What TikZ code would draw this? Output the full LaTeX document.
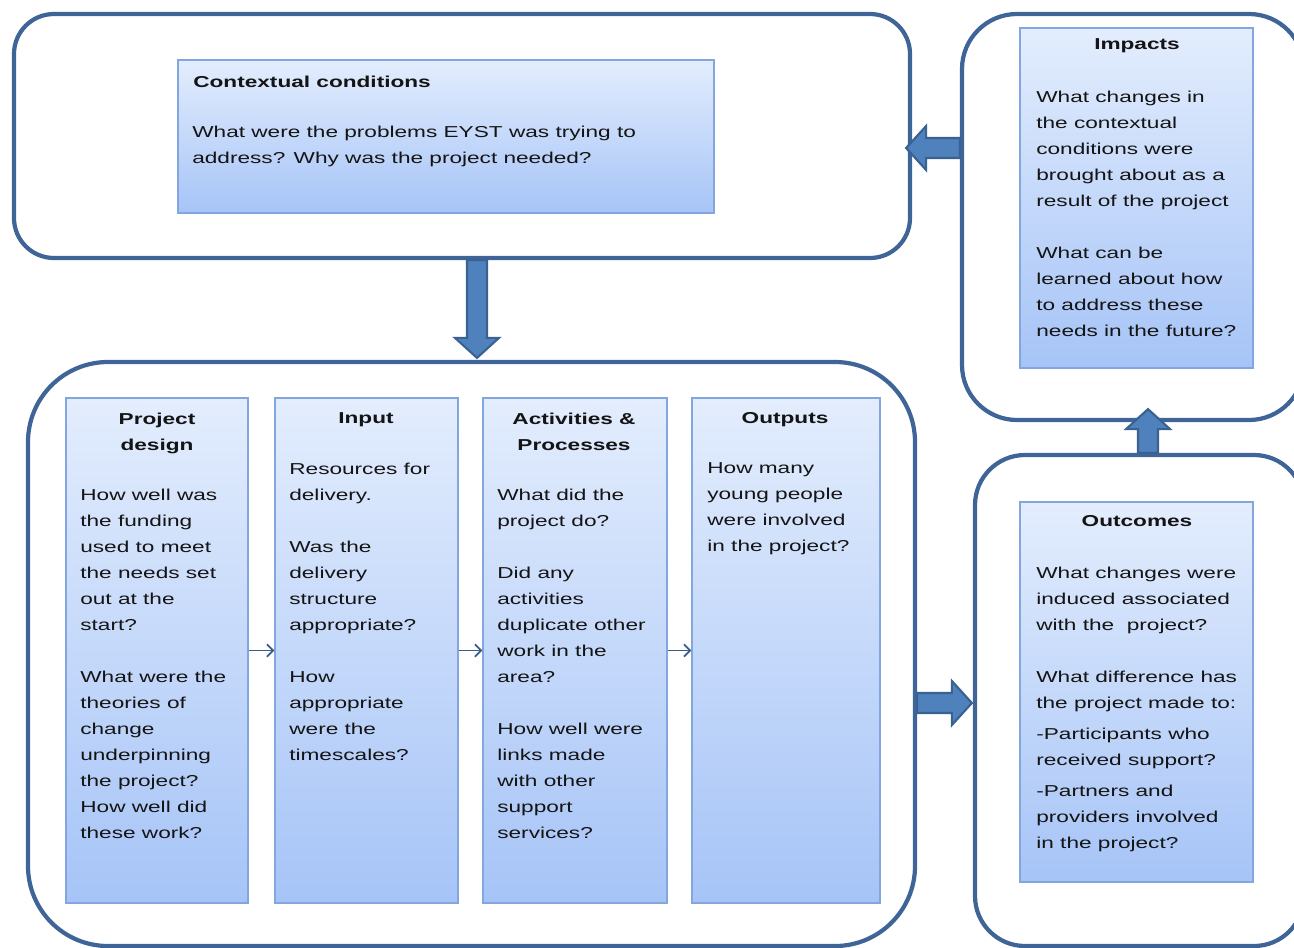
\documentclass[tikz,border=0pt]{standalone}
\usepackage{fontspec}
\setmainfont{Liberation Sans}[FakeStretch=1.43]
\usetikzlibrary{calc,fit,arrows.meta}

\definecolor{frameblue}{HTML}{3F6598}
\definecolor{boxedge}{HTML}{82A6DD}
\definecolor{boxtop}{HTML}{E3EDFD}
\definecolor{boxbot}{HTML}{A6C4F7}
\definecolor{arrowfill}{HTML}{4F81BD}
\definecolor{arrowedge}{HTML}{3A6190}
\definecolor{flowblue}{HTML}{3B5B88}
\definecolor{textgrey}{HTML}{141414}

\begin{document}
\begin{tikzpicture}[x=0.02cm, y=-0.02cm,
    every node/.style={font=\fontsize{9}{14.8}\selectfont, text=textgrey},
    frame/.style={draw=frameblue, line width=2.4pt, inner sep=0pt},
    qbox/.style={draw=boxedge, line width=0.8pt, top color=boxtop, bottom color=boxbot, inner sep=0pt},
    head/.style={font=\fontsize{9}{14.8}\selectfont\bfseries, align=center, anchor=north, inner sep=0pt},
    body/.style={align=left, anchor=north west, inner sep=0pt},
    flow/.style={-{Straight Barb[length=3.5pt,width=7pt]}, draw=flowblue, line width=1pt},
    bigarrow/.style={draw=arrowedge, fill=arrowfill, line width=1.2pt, line join=miter,
      to path={
        -- ($(\tikztostart)!0.2cm!90:(\tikztotarget)$)
        -- ($($(\tikztotarget)!0.4cm!(\tikztostart)$)!0.2cm!90:(\tikztotarget)$)
        -- ($($(\tikztotarget)!0.4cm!(\tikztostart)$)!0.44cm!90:(\tikztotarget)$)
        -- (\tikztotarget)
        -- ($($(\tikztotarget)!0.4cm!(\tikztostart)$)!0.44cm!-90:(\tikztotarget)$)
        -- ($($(\tikztotarget)!0.4cm!(\tikztostart)$)!0.2cm!-90:(\tikztotarget)$)
        -- ($(\tikztostart)!0.2cm!-90:(\tikztotarget)$)
        -- cycle}}]

    \useasboundingbox (0,0) rectangle (1294,947);
    \clip (0,0) rectangle (1294,947);

    % outer frames
    \node[frame, rounded corners=0.8cm, fit={(14,14) (910,258)}] (ctxframe) {};
    \node[frame, rounded corners=1.1cm, fit={(962,14) (1304,420)}] (impframe) {};
    \node[frame, rounded corners=1.6cm, fit={(28,362) (915,946)}] (mainframe) {};
    \node[frame, rounded corners=1.0cm, fit={(975,455) (1304,946)}] (outframe) {};

    % question boxes
    \node[qbox, fit={(178,60) (714,213)}] (ctxbox) {};
    \node[qbox, fit={(1020,28) (1253,368)}] (impbox) {};
    \node[qbox, fit={(66,398) (248,903)}] (design) {};
    \node[qbox, fit={(275,398) (458,903)}] (input) {};
    \node[qbox, fit={(483,398) (667,903)}] (acts) {};
    \node[qbox, fit={(692,398) (880,903)}] (outputs) {};
    \node[qbox, fit={(1020,502) (1253,882)}] (outcomes) {};

    % contextual conditions
    \node[body] (ctxhead) at (193,75.5) {\bfseries Contextual conditions};
    \node[body] (ctxtext) at (192,125.5) {What were the problems EYST was trying to\\address? Why was the project needed?};

    % impacts
    \node[head] (imphead) at (1137,38.5) {Impacts};
    \node[body] (imptext) at (1036,90.5) {What changes in\\the contextual\\conditions were\\brought about as a\\result of the project\\[14.8pt]What can be\\learned about how\\to address these\\needs in the future?};

    % the four columns
    \node[head] (designhead) at (157,412.5) {Project\\design};
    \node[body] (designtext) at (80,488.5) {How well was\\the funding\\used to meet\\the needs set\\out at the\\start?\\[14.8pt]What were the\\theories of\\change\\underpinning\\the project?\\How well did\\these work?};

    \node[head] (inputhead) at (366,412.5) {Input};
    \node[body] (inputtext) at (289,462.5) {Resources for\\delivery.\\[14.8pt]Was the\\delivery\\structure\\appropriate?\\[14.8pt]How\\appropriate\\were the\\timescales?};

    \node[head] (actshead) at (574,412.5) {Activities \&\\Processes};
    \node[body] (actstext) at (497,488.5) {What did the\\project do?\\[14.8pt]Did any\\activities\\duplicate other\\work in the\\area?\\[14.8pt]How well were\\links made\\with other\\support\\services?};

    \node[head] (outputshead) at (785,412.5) {Outputs};
    \node[body] (outputstext) at (707,462.5) {How many\\young people\\were involved\\in the project?};

    % outcomes
    \node[head] (outcomeshead) at (1137,515.5) {Outcomes};
    \node[body] (outcomestext) at (1036,566.5) {What changes were\\induced associated\\with the\ \ project?\\[14.8pt]What difference has\\the project made to:\\[3pt]-Participants who\\received support?\\[3pt]-Partners and\\providers involved\\in the project?};

    % flow between columns
    \draw[flow] (design.east) -- (input.west);
    \draw[flow] (input.east) -- (acts.west);
    \draw[flow] (acts.east) -- (outputs.west);

    % block arrows between frames
    \draw[bigarrow] (impframe.west |- 0,148) to ($(ctxframe.east |- 0,148)+(-6,0)$);
    \draw[bigarrow] (ctxframe.south -| 477,0) to ($(mainframe.north -| 477,0)+(0,-2)$);
    \draw[bigarrow] (mainframe.east |- 0,703) to ($(outframe.west |- 0,703)+(-1,0)$);
    \draw[bigarrow] (outframe.north -| 1148,0) to ($(impframe.south -| 1148,0)+(0,-13)$);

\end{tikzpicture}
\end{document}
